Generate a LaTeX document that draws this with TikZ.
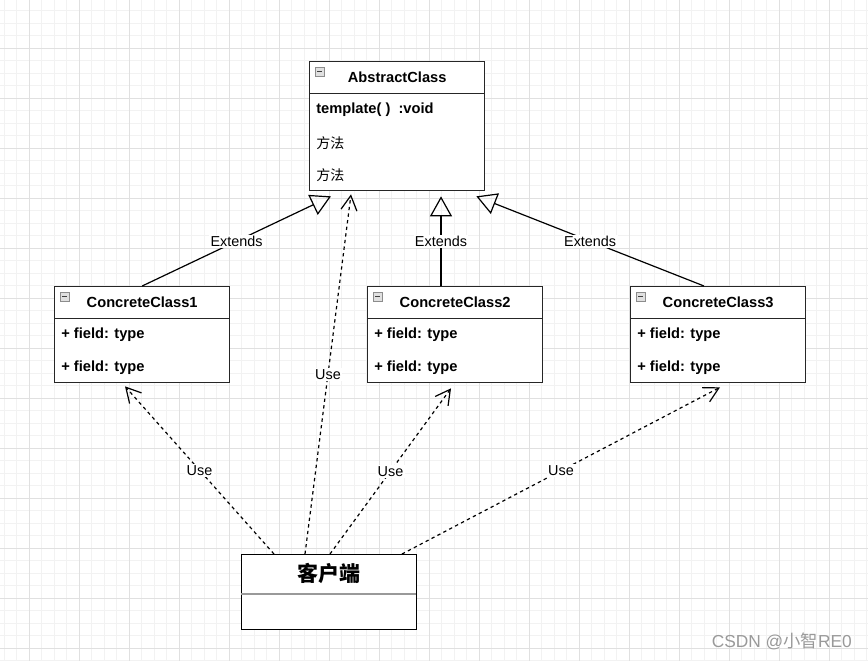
\documentclass[tikz,border=0pt]{standalone}
\usepackage{fontspec}
\setmainfont{Liberation Sans}
\newfontfamily\cjk{Noto Sans CJK SC}
\usetikzlibrary{arrows.meta,calc}

\begin{document}
\begin{tikzpicture}[x=0.75pt,y=-0.75pt,
	classbox/.style={draw=black!85,line width=1pt,fill=white,anchor=north west,minimum width=131.25pt,inner sep=0pt},
	classtitle/.style={font=\fontsize{11}{13}\selectfont\bfseries,inner sep=0pt},
	classrow/.style={font=\fontsize{11}{13}\selectfont,anchor=west,inner sep=0pt},
	extends/.style={draw=black,line width=0.9pt,-{Triangle[open,length=15pt,width=16.5pt]}},
	uses/.style={draw=black,line width=0.9pt,dash pattern=on 2.5pt off 2.5pt,-{Straight Barb[length=11pt,width=12pt]}},
	linelabel/.style={fill=white,inner sep=1pt,font=\fontsize{10.8}{12}\selectfont},
	minorgrid/.style={draw=black!5,line width=0.75pt},
	majorgrid/.style={draw=black!12,line width=0.75pt}]

\useasboundingbox (0,0) rectangle (868,661);

% background grid, 12.5px steps, major every 50px
\foreach \gx in {4.3,16.8,...,868} {
	\draw [minorgrid] (\gx,0) -- (\gx,661);
}
\foreach \gy in {10.8,23.3,...,661} {
	\draw [minorgrid] (0,\gy) -- (868,\gy);
}
\foreach \gx in {29.3,79.3,...,868} {
	\draw [majorgrid] (\gx,0) -- (\gx,661);
}
\foreach \gy in {48.3,98.3,...,661} {
	\draw [majorgrid] (0,\gy) -- (868,\gy);
}

\newcommand*{\classicon}[1] {
	\draw [draw=black!45,fill=black!12] ($(#1.north west)+(6,6)$) rectangle ++(9,9);
	\draw [black!75,line width=0.8pt] ($(#1.north west)+(8,10.5)$) -- ++(5,0);
}
\newcommand*{\classhead}[1] {
	\draw [draw=black!85,line width=1pt] ($(#1.north west)+(0,32.5)$) -- ++(175,0);
}

% abstract class
\node [classbox,minimum height=96.75pt] (abstract) at (309,61) {};
\classhead{abstract}
\classicon{abstract}
\node [classtitle] (abstractTitle) at ($(abstract.north)+(0,16.5)$) {AbstractClass};
\node [classrow,font=\fontsize{11}{13}\selectfont\bfseries] (abstractTpl) at ($(abstract.north west)+(7,49)$) {template( )\ \ :void};
\node [classrow,font=\cjk\fontsize{10.5}{12}\selectfont] (abstractOpA) at ($(abstract.north west)+(7,82)$) {方法};
\node [classrow,font=\cjk\fontsize{10.5}{12}\selectfont] (abstractOpB) at ($(abstract.north west)+(7,114)$) {方法};

% concrete classes
\foreach \cname/\cx/\ctext in {ccA/54/ConcreteClass1,ccB/367/ConcreteClass2,ccC/630/ConcreteClass3} {
	\node [classbox,minimum height=72pt] (\cname) at (\cx,286) {};
	\classhead{\cname}
	\classicon{\cname}
	\node [classtitle] (\cname Title) at ($(\cname.north)+(0,16.5)$) {\ctext};
	\node [classrow,font=\fontsize{11}{13}\selectfont\bfseries] (\cname FieldA) at ($(\cname.north west)+(7,49)$) {+ field: type};
	\node [classrow,font=\fontsize{11}{13}\selectfont\bfseries] (\cname FieldB) at ($(\cname.north west)+(7,82)$) {+ field: type};
}

% client
\node [classbox,draw=black,minimum height=56.25pt] (client) at (241,554) {};
\draw [black!40,line width=1pt] ($(client.north west)+(0,40)$) -- ++(175,0);
\node [font=\cjk\fontsize{15.75}{18}\selectfont\bfseries,inner sep=0pt] (clientTitle) at ($(client.north)+(0,19)$) {客户端};

% generalisation
\draw [extends] (ccA.north) -- node [linelabel] {Extends} ($(abstract.south west)+(22,5)$);
\draw [extends] ($(ccB.north west)+(74,0)$) -- node [linelabel] {Extends} ($(abstract.south west)+(132,5)$);
\draw [extends] ($(ccC.north west)+(74,0)$) -- node [linelabel] {Extends} ($(abstract.south east)+(-9,5)$);

% dependencies of the client
\draw [uses] ($(client.north west)+(33,0)$) -- node [linelabel] {Use} ($(ccA.south west)+(71,3)$);
\draw [uses] ($(client.north west)+(64,0)$) -- node [linelabel] {Use} ($(abstract.south west)+(42,3)$);
\draw [uses] ($(client.north west)+(89,0)$) -- node [linelabel] {Use} ($(ccB.south west)+(84,5)$);
\draw [uses] ($(client.north west)+(161,0)$) -- node [linelabel] {Use} ($(ccC.south west)+(90,4)$);

\node [text=black!40,font=\fontsize{13}{15}\selectfont,anchor=east,inner sep=0pt] (mark) at (852,641) {CSDN @{\cjk 小智}RE0};

\end{tikzpicture}
\end{document}
